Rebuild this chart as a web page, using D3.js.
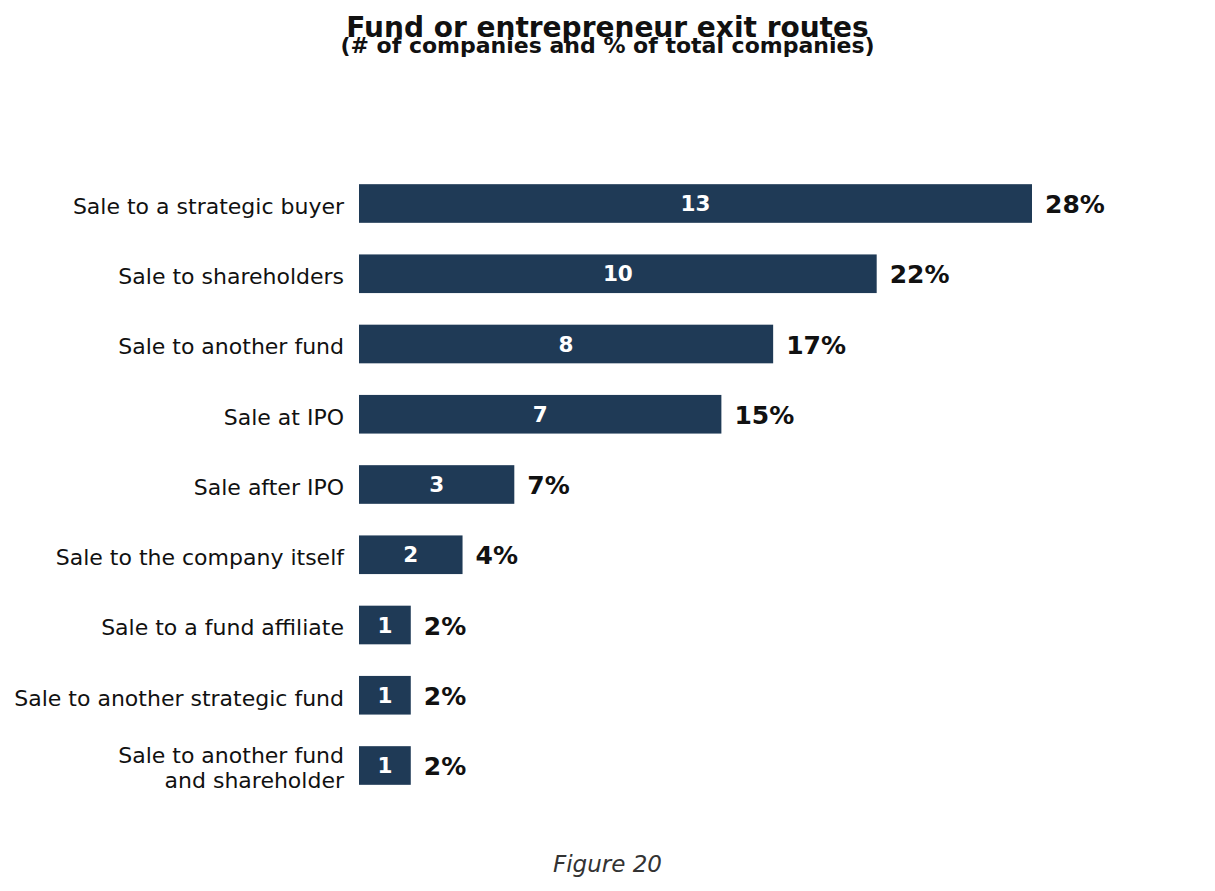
<!DOCTYPE html>
<html><head><meta charset="utf-8">
<script src="https://cdn.jsdelivr.net/npm/d3@7"></script>
<style>body{margin:0;background:#fff;} svg{display:block;font-family:"DejaVu Sans",sans-serif;}</style>
</head><body>
<svg id="c" width="1215" height="891"></svg>
<script>
const categories = ["Sale to a strategic buyer","Sale to shareholders","Sale to another fund","Sale at IPO","Sale after IPO","Sale to the company itself","Sale to a fund affiliate","Sale to another strategic fund","Sale to another fund\nand shareholder"];
const counts = [13,10,8,7,3,2,1,1,1];
const percents = ["28%","22%","17%","15%","7%","4%","2%","2%","2%"];
const title = "Fund or entrepreneur exit routes";
const subtitle = "(# of companies and % of total companies)";
const caption = "Figure 20";

const svg = d3.select("#c");
const color = "#1f3a56";
const x = d3.scaleLinear().domain([0,13]).range([359,1032]);
const step = 70.25;
const y = d3.scaleBand().domain(categories).range([203.5 - step/2, 203.5 + step*8.5]).paddingInner(0.45).paddingOuter(0.225);

svg.append("text").attr("x",607.5).attr("y",37).attr("text-anchor","middle").attr("font-size",28).attr("font-weight","bold").attr("fill","#111").text(title);
svg.append("text").attr("x",607.5).attr("y",53).attr("text-anchor","middle").attr("font-size",22).attr("font-weight","bold").attr("fill","#111").text(subtitle);

const g = svg.append("g");
g.selectAll("rect").data(categories).join("rect")
  .attr("x",x(0)).attr("y",d=>y(d)).attr("height",y.bandwidth())
  .attr("width",(d,i)=>x(counts[i])-x(0)).attr("fill",color);

g.selectAll("text.v").data(categories).join("text").attr("class","v")
  .attr("x",(d,i)=>(x(0)+x(counts[i]))/2).attr("y",d=>y(d)+y.bandwidth()/2).attr("dy","0.36em")
  .attr("text-anchor","middle").attr("font-size",21.5).attr("font-weight","bold").attr("fill","#fff")
  .text((d,i)=>counts[i]);

g.selectAll("text.p").data(categories).join("text").attr("class","p")
  .attr("x",(d,i)=>x(counts[i])+13).attr("y",d=>y(d)+y.bandwidth()/2).attr("dy","0.38em")
  .attr("font-size",25).attr("font-weight","bold").attr("fill","#111")
  .text((d,i)=>percents[i]);

const lab = g.selectAll("text.l").data(categories).join("text").attr("class","l")
  .attr("text-anchor","end").attr("font-size",22).attr("fill","#111");
lab.each(function(d){
  const lines = d.split("\n");
  const t = d3.select(this);
  const cy = y(d)+y.bandwidth()/2 + 2.5;
  const lh = 25;
  lines.forEach((ln,k)=>{
    t.append("tspan").attr("x",344).attr("y",cy + (k-(lines.length-1)/2)*lh).attr("dy","0.36em").text(ln);
  });
});

svg.append("text").attr("x",607.5).attr("y",872).attr("text-anchor","middle").attr("font-size",23).attr("font-style","italic").attr("fill","#333").text(caption);
</script>
</body></html>
